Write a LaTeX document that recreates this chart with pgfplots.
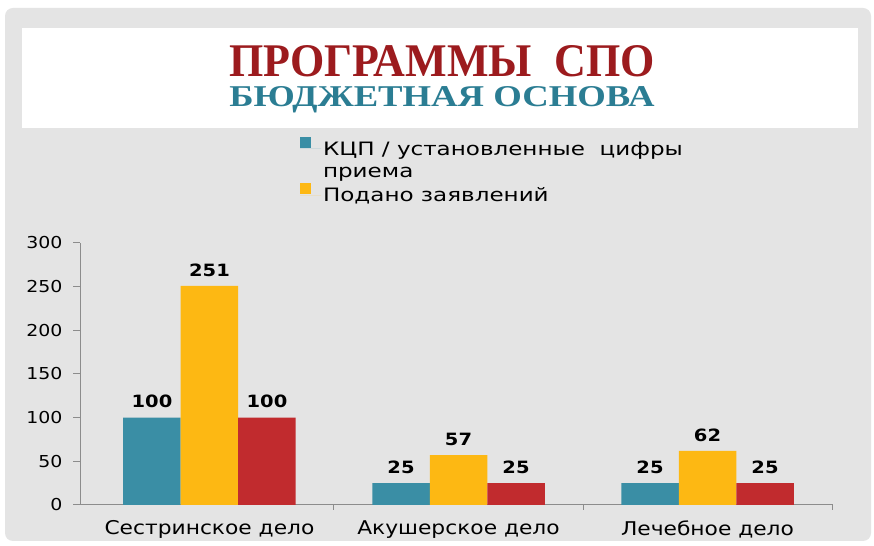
\documentclass[border=0pt]{standalone}
\usepackage{fontspec}
\setmainfont[FakeStretch=1.15]{DejaVu Sans}
\newfontfamily\legfont[FakeStretch=1.25]{DejaVu Sans}
\newfontfamily\titlefont{Liberation Serif}
\usepackage{pgfplots}
\pgfplotsset{compat=1.18}
\definecolor{cteal}{HTML}{3A8EA5}
\definecolor{cyellow}{HTML}{FDB813}
\definecolor{cred}{HTML}{C12B2E}
\definecolor{tred}{HTML}{9C1B1E}
\definecolor{tteal}{HTML}{2B7D93}
\definecolor{slide}{HTML}{E4E4E4}
\definecolor{axgray}{HTML}{8C8C8C}
\begin{document}
\begin{tikzpicture}[x=1bp,y=1bp]
\fill[white] (0,0) rectangle (874,546);
\fill[slide, rounded corners=8bp] (5,5) rectangle (871,538);
\fill[white] (22,418) rectangle (858,518);
\node[anchor=base, text=tred, inner sep=0] at (442,469) {\resizebox{425bp}{31bp}{\titlefont\bfseries ПРОГРАММЫ\ \ СПО}};
\node[anchor=base, text=tteal, inner sep=0] at (442,439) {\resizebox{425bp}{20bp}{\titlefont\bfseries БЮДЖЕТНАЯ ОСНОВА}};
\begin{axis}[
  at={(80bp,41bp)}, anchor=south west, scale only axis,
  width=753bp, height=262bp,
  ybar=0pt, bar width=57.5bp,
  xmin=-0.52, xmax=2.504, ymin=0, ymax=300,
  enlarge x limits=false,
  xtick={0,1,2},
  xticklabels={Сестринское дело, Акушерское дело, Лечебное дело},
  minor xtick={0.5,1.5,2.5},
  ytick={0,50,...,300},
  axis lines*=left,
  axis line style={axgray, line width=1bp},
  tick align=outside,
  major x tick style={draw=none},
  minor x tick style={axgray, line width=1bp},
  major y tick style={axgray, line width=1bp},
  major tick length=7bp, minor tick length=5bp,
  /pgf/number format/assume math mode=true,
  yticklabel style={font=\fontsize{16.5}{16.5}\selectfont, xshift=-7bp},
  xticklabel style={font=\fontsize{19}{19}\selectfont, yshift=-5bp},
  nodes near coords,
  every node near coord/.append style={font=\bfseries\fontsize{17}{17}\selectfont, text=black, yshift=6bp},
  legend style={at={(0.288,1.413)}, anchor=north west, draw=none, fill=none,
    font=\legfont\fontsize{18.5}{22}\selectfont, row sep=24bp},
  legend cell align=left,
  legend image code/.code={\path (0bp,0bp) -- (21bp,0bp); \fill[#1] (0bp,1bp) rectangle (11bp,12bp);},
]
\addplot[fill=cteal, draw=none] coordinates {(0,100) (1,25) (2,25)};
\addplot[fill=cyellow, draw=none] coordinates {(0,251) (1,57) (2,62)};
\addplot[fill=cred, draw=none] coordinates {(0,100) (1,25) (2,25)};
\legend{{\begin{tabular}[t]{@{}l@{}}КЦП / установленные \ цифры\\[0bp]приема\end{tabular}}, Подано заявлений}
\end{axis}
\end{tikzpicture}
\end{document}
